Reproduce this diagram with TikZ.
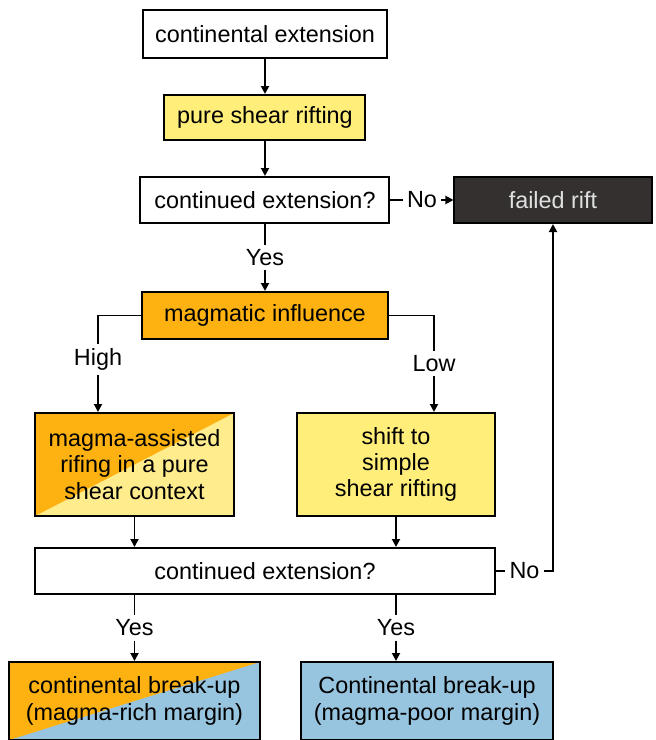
\documentclass[tikz,border=0pt]{standalone}
\usepackage{fontspec}
\setmainfont{Liberation Sans}
\usetikzlibrary{positioning, arrows.meta}
\definecolor{magmaorange}{RGB}{253,178,17}
\definecolor{shearyellow}{RGB}{255,238,122}
\definecolor{paleyellow}{RGB}{255,236,140}
\definecolor{marginblue}{RGB}{151,196,222}
\definecolor{riftgray}{RGB}{52,48,48}
\tikzset{plainbox/.style={
        draw,
        rectangle,
        line width=1pt,
        inner sep=2pt,
        align=center,
        fill=white
}}
\tikzset{stagebox/.style={
        plainbox,
        fill=#1
}}
\tikzset{halfbox/.style 2 args={
        plainbox,
        fill=#2,
        path picture={\fill[#1] (path picture bounding box.north west) -- (path picture bounding box.north east) -- (path picture bounding box.south west) -- cycle;}
}}
\tikzset{answer/.style={inner sep=2pt}}
\tikzset{plainedge/.style={draw,line width=0.9pt}}
\tikzset{flowedge/.style={draw,line width=0.9pt,-{Triangle[length=4pt,width=4pt]}}}

\begin{document}
\begin{tikzpicture}[node distance=17.5pt,every node/.style={font=\fontsize{11.7}{13.2}\selectfont}]
\useasboundingbox[fill=white] (-132.5pt,17pt) rectangle (195.5pt,-353pt);
\node[plainbox, minimum width=122pt, minimum height=24pt] (ext) {continental extension};
\node[stagebox=shearyellow, minimum width=100.5pt, minimum height=22.5pt, below=of ext] (pure) {pure shear rifting};
\node[plainbox, minimum width=124.5pt, minimum height=23pt, below=of pure] (cont1) {continued extension?};
\node[stagebox=riftgray, text=black!12, minimum width=98.5pt, minimum height=23pt, right=31.5pt of cont1] (failed) {failed rift};
\node[stagebox=magmaorange, minimum width=123pt, minimum height=23.5pt, below=33.5pt of cont1] (magm) {magmatic influence};
\node[halfbox={magmaorange}{paleyellow}, minimum width=99.5pt, minimum height=51.5pt, below=36pt of magm, xshift=-65.25pt] (assist) {magma-assisted\\rifing in a pure\\shear context};
\node[stagebox=shearyellow, minimum width=99pt, minimum height=51.5pt, below=36pt of magm, xshift=65.5pt] (shift) {shift to\\simple\\shear rifting};
\node[plainbox, minimum width=230pt, minimum height=23pt, below=15pt of assist, xshift=65.25pt] (cont2) {continued extension?};
\node[halfbox={magmaorange}{marginblue}, minimum width=125.5pt, minimum height=39pt, below=33pt of cont2, xshift=-65.25pt] (rich) {continental break-up\\(magma-rich margin)};
\node[stagebox=marginblue, minimum width=126pt, minimum height=39pt, below=33pt of cont2, xshift=81pt] (poor) {Continental break-up\\(magma-poor margin)};

% answers on the connectors
\path (cont1.south) -- node[answer] (yes1) {Yes} (magm.north);
\path (cont1.east) -- node[answer] (no1) {No} (failed.west);
\coordinate[left=21.5pt of magm.west] (hx);
\coordinate[right=22.5pt of magm.east] (lx);
\path (hx) -- node[answer, yshift=2pt] (high) {High} (hx |- assist.north);
\path (lx) -- node[answer] (low) {Low} (lx |- shift.north);
\path (rich.north |- cont2.south) -- node[answer] (yes2) {Yes} (rich.north);
\path (shift.south |- cont2.south) -- node[answer] (yes3) {Yes} (shift.south |- rich.north);
\path (cont2.east) -- node[answer] (no2) {No} (cont2.east -| failed.south);

\draw[flowedge] (ext) -- (pure);
\draw[flowedge] (pure) -- (cont1);
\draw[plainedge] (cont1) -- (yes1);
\draw[flowedge] (yes1) -- (magm);
\draw[plainedge] (cont1) -- (no1);
\draw[flowedge] (no1) -- (failed);
\draw[plainedge] (magm.west) -| (high);
\draw[flowedge] (high) -- (high |- assist.north);
\draw[plainedge] (magm.east) -| (low);
\draw[flowedge] (low) -- (low |- shift.north);
\draw[flowedge] (assist) -- (assist |- cont2.north);
\draw[flowedge] (shift) -- (shift |- cont2.north);
\draw[plainedge] (yes2 |- cont2.south) -- (yes2);
\draw[flowedge] (yes2) -- (rich);
\draw[plainedge] (yes3 |- cont2.south) -- (yes3);
\draw[flowedge] (yes3) -- (yes3 |- poor.north);
\draw[plainedge] (cont2) -- (no2);
\draw[flowedge] (no2) -| (failed);
\end{tikzpicture}
\end{document}
